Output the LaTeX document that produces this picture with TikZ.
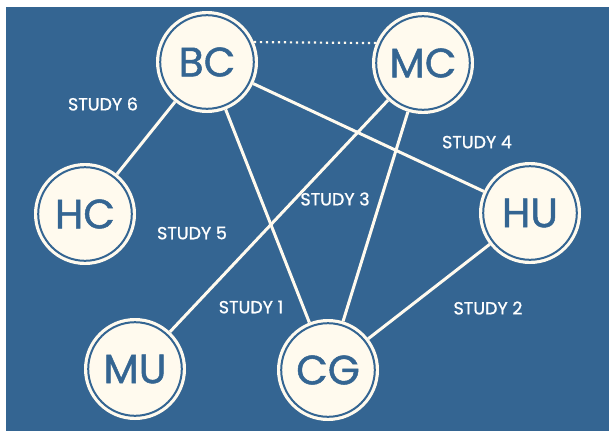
\documentclass[tikz,border=0pt]{standalone}
\usepackage{fontspec}
\setmainfont{Poppins}
\newfontfamily\sitefont{Poppins}[FakeBold=1.2]
\newfontfamily\lblfont{Poppins}[FakeBold=1.0]
\definecolor{bgblue}{HTML}{346592}
\definecolor{cream}{HTML}{FFFAEE}
\tikzset{
  site/.style={circle, fill=cream, minimum size=102pt, inner sep=0pt, outer sep=0pt,
    text=bgblue, font=\sitefont\fontsize{41}{41}\selectfont,
    path picture={\draw[bgblue, line width=2pt] (path picture bounding box.center) circle (46.8pt);}},
  link/.style={draw=cream, line width=3pt},
  dotlink/.style={draw=cream, line width=2.2pt, dash pattern=on 2.2pt off 3.8pt},
  studylbl/.style={text=white, font=\lblfont\fontsize{17.5}{17.5}\selectfont, inner sep=0pt}
}
\begin{document}
\begin{tikzpicture}[x=1pt, y=-1pt]
\useasboundingbox (0,0) rectangle (609,433);
\fill[white] (0,0) rectangle (609,433);
\fill[bgblue] (6,7) rectangle (609,431);
\node[site] (BC) at (207,62) {BC};
\node[site] (MC) at (423,63) {MC};
\node[site] (HC) at (85,214) {HC};
\node[site] (HU) at (530,213) {HU};
\node[site] (MU) at (135,369) {MU};
\node[site] (CG) at (328,370) {CG};
\draw[dotlink] (BC.23) -- (MC.157);
\draw[link] (BC) -- (HC);
\draw[link] (BC) -- (HU);
\draw[link] (BC) -- (CG);
\draw[link] (MC) -- (MU);
\draw[link] (MC) -- (CG);
\draw[link] (HU) -- (CG);
\node[studylbl] (s6) at (103,104) {STUDY 6};
\node[studylbl] (s4) at (477,142) {STUDY 4};
\node[studylbl] (s3) at (335,199) {STUDY 3};
\node[studylbl] (s5) at (192,233) {STUDY 5};
\node[studylbl] (s1) at (251,307) {STUDY 1};
\node[studylbl] (s2) at (488,308) {STUDY 2};
\end{tikzpicture}
\end{document}
